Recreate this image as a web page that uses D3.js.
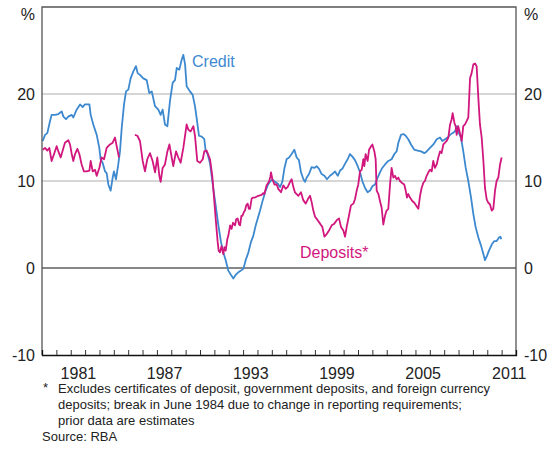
<!DOCTYPE html>
<html>
<head>
<meta charset="utf-8">
<script src="https://cdn.jsdelivr.net/npm/d3@7"></script>
<style>
  html, body { margin: 0; padding: 0; background: #fff; }
  svg { display: block; font-family: 'Liberation Sans', Arial, sans-serif; }
</style>
</head>
<body>
<svg id="chart" width="559" height="450"></svg>
<script>
// annual growth, % (year as decimal, value)
const creditPoints = [
  [1979.05, 14.6], [1979.21, 15.3], [1979.37, 15.5], [1979.56, 16.9], [1979.67, 17.6], [1979.91, 17.6],
  [1980.14, 17.7], [1980.37, 18.0], [1980.49, 17.4], [1980.67, 17.1], [1980.83, 17.4], [1981.07, 17.6],
  [1981.18, 17.3], [1981.41, 18.2], [1981.65, 18.8], [1981.83, 18.5], [1981.99, 18.8], [1982.30, 18.8],
  [1982.39, 17.6], [1982.57, 16.5], [1982.81, 15.3], [1982.99, 13.8], [1983.08, 12.5], [1983.22, 12.1],
  [1983.39, 11.1], [1983.50, 10.9], [1983.62, 9.6], [1983.78, 8.9], [1983.92, 10.4], [1984.01, 11.1],
  [1984.15, 10.2], [1984.31, 11.9], [1984.43, 13.4], [1984.55, 16.1], [1984.71, 18.8], [1984.85, 20.3],
  [1985.01, 20.5], [1985.17, 21.8], [1985.36, 22.6], [1985.54, 23.2], [1985.66, 22.4], [1985.82, 22.2],
  [1986.05, 21.8], [1986.29, 21.6], [1986.47, 20.1], [1986.64, 20.3], [1986.87, 18.6], [1987.10, 18.2],
  [1987.26, 17.6], [1987.40, 18.2], [1987.56, 16.5], [1987.73, 16.3], [1987.91, 19.2], [1988.10, 21.3],
  [1988.26, 21.6], [1988.38, 23.0], [1988.56, 22.8], [1988.72, 23.9], [1988.84, 24.5], [1988.96, 23.4],
  [1989.07, 20.9], [1989.30, 20.3], [1989.49, 19.9], [1989.65, 18.6], [1989.77, 17.2], [1989.93, 15.2],
  [1990.12, 15.1], [1990.30, 14.8], [1990.39, 13.5], [1990.53, 13.1], [1990.70, 12.0], [1990.81, 10.6],
  [1990.93, 9.1], [1991.09, 7.2], [1991.28, 4.9], [1991.46, 3.0], [1991.62, 1.8], [1991.79, 0.9],
  [1991.97, -0.3], [1992.16, -0.8], [1992.32, -1.2], [1992.48, -0.8], [1992.67, -0.5], [1992.85, -0.3],
  [1993.02, -0.1], [1993.18, 0.9], [1993.37, 1.8], [1993.55, 3.0], [1993.71, 3.7], [1993.88, 4.9],
  [1994.02, 5.7], [1994.18, 6.6], [1994.34, 7.6], [1994.53, 8.7], [1994.71, 9.5], [1994.87, 9.9],
  [1995.04, 10.2], [1995.22, 9.9], [1995.41, 9.7], [1995.57, 9.3], [1995.73, 9.9], [1995.87, 11.4],
  [1996.03, 12.5], [1996.20, 12.7], [1996.38, 13.1], [1996.57, 13.6], [1996.73, 12.7], [1996.89, 12.4],
  [1997.03, 11.0], [1997.20, 10.2], [1997.31, 9.9], [1997.43, 10.4], [1997.59, 10.8], [1997.77, 11.6],
  [1997.96, 11.5], [1998.12, 11.7], [1998.29, 11.4], [1998.47, 10.8], [1998.66, 10.6], [1998.84, 10.2],
  [1999.05, 10.6], [1999.21, 10.8], [1999.40, 11.1], [1999.59, 10.6], [1999.75, 11.2], [1999.91, 11.4],
  [2000.10, 12.0], [2000.28, 12.5], [2000.44, 13.1], [2000.61, 12.8], [2000.79, 12.4], [2000.98, 11.7],
  [2001.14, 11.0], [2001.30, 10.0], [2001.49, 9.2], [2001.67, 8.7], [2001.84, 8.9], [2002.00, 9.4],
  [2002.18, 9.6], [2002.37, 10.4], [2002.53, 11.0], [2002.69, 11.5], [2002.88, 11.9], [2003.11, 12.3],
  [2003.34, 12.5], [2003.53, 13.1], [2003.69, 13.4], [2003.81, 14.4], [2003.99, 15.3], [2004.16, 15.4],
  [2004.32, 15.2], [2004.50, 14.8], [2004.69, 14.2], [2004.92, 13.6], [2005.15, 13.5], [2005.39, 13.4],
  [2005.62, 13.2], [2005.78, 13.4], [2006.01, 13.8], [2006.25, 14.2], [2006.48, 14.8], [2006.71, 15.0],
  [2006.87, 14.6], [2007.06, 14.8], [2007.24, 15.0], [2007.41, 15.3], [2007.57, 15.5], [2007.75, 15.7],
  [2007.89, 16.3], [2008.03, 15.5], [2008.17, 15.0], [2008.33, 13.4], [2008.50, 11.5], [2008.68, 10.0],
  [2008.87, 8.1], [2009.03, 6.2], [2009.19, 4.7], [2009.38, 3.5], [2009.56, 2.6], [2009.73, 1.6],
  [2009.84, 0.9], [2009.98, 1.4], [2010.12, 2.0], [2010.31, 2.7], [2010.49, 3.1], [2010.65, 3.1],
  [2010.82, 3.5], [2010.91, 3.6], [2010.98, 3.3]
]

// null value = break in series (June 1984)
const depositPoints = [
  [1979.05, 13.6], [1979.21, 13.8], [1979.37, 13.5], [1979.51, 13.8], [1979.67, 12.3], [1979.84, 13.1],
  [1980.02, 14.0], [1980.14, 13.4], [1980.30, 12.7], [1980.49, 13.8], [1980.60, 14.4], [1980.83, 14.7],
  [1980.95, 14.2], [1981.07, 13.1], [1981.18, 12.3], [1981.30, 13.1], [1981.46, 13.7], [1981.60, 13.1],
  [1981.76, 11.9], [1981.92, 11.1], [1982.11, 11.1], [1982.30, 11.2], [1982.39, 12.3], [1982.53, 11.1],
  [1982.69, 11.3], [1982.81, 10.6], [1982.99, 11.5], [1983.15, 12.7], [1983.32, 12.5], [1983.50, 13.8],
  [1983.73, 14.2], [1983.92, 14.4], [1984.08, 15.0], [1984.20, 14.0], [1984.36, 12.7],
  [1984.90, null],
  [1985.47, 15.3], [1985.64, 15.2], [1985.82, 14.6], [1986.01, 12.3], [1986.17, 11.1], [1986.33, 12.5],
  [1986.52, 13.2], [1986.70, 12.3], [1986.87, 11.0], [1987.03, 12.7], [1987.17, 10.6], [1987.26, 9.9],
  [1987.40, 11.5], [1987.56, 11.9], [1987.73, 13.4], [1987.87, 14.2], [1988.03, 12.7], [1988.14, 11.7],
  [1988.33, 13.4], [1988.49, 12.7], [1988.65, 12.1], [1988.84, 13.8], [1989.07, 16.5], [1989.19, 15.9],
  [1989.35, 15.7], [1989.54, 16.3], [1989.65, 15.2], [1989.81, 12.3], [1990.00, 12.1], [1990.19, 12.5],
  [1990.30, 13.4], [1990.46, 13.5], [1990.70, 12.5], [1990.86, 10.5], [1990.98, 8.0], [1991.10, 5.5],
  [1991.23, 3.0], [1991.30, 2.0], [1991.39, 1.8], [1991.50, 2.5], [1991.62, 1.6], [1991.70, 2.4],
  [1991.79, 2.0], [1991.90, 3.3], [1991.97, 3.7], [1992.10, 4.9], [1992.20, 4.5], [1992.30, 5.2],
  [1992.44, 4.9], [1992.52, 5.6], [1992.62, 5.7], [1992.72, 5.0], [1992.79, 4.9], [1992.88, 6.0],
  [1992.95, 6.0], [1993.05, 6.4], [1993.13, 6.6], [1993.22, 7.2], [1993.32, 7.4], [1993.40, 6.8],
  [1993.48, 6.8], [1993.60, 8.0], [1993.70, 8.1], [1993.83, 8.1], [1994.06, 8.3], [1994.29, 8.4],
  [1994.40, 8.6], [1994.48, 8.5], [1994.64, 9.5], [1994.80, 9.9], [1994.90, 10.5], [1994.94, 11.0],
  [1995.04, 10.2], [1995.18, 9.6], [1995.34, 9.6], [1995.45, 9.1], [1995.64, 8.7], [1995.80, 9.5],
  [1995.96, 9.1], [1996.10, 9.3], [1996.27, 9.9], [1996.38, 10.2], [1996.50, 9.3], [1996.61, 8.7],
  [1996.73, 8.5], [1996.85, 8.3], [1997.03, 8.7], [1997.19, 7.8], [1997.36, 7.4], [1997.54, 8.0],
  [1997.66, 8.3], [1997.77, 7.6], [1997.89, 6.6], [1998.01, 5.9], [1998.19, 5.5], [1998.36, 5.1],
  [1998.52, 4.7], [1998.66, 3.6], [1998.82, 3.9], [1998.98, 4.3], [1999.17, 4.9], [1999.35, 5.1],
  [1999.52, 5.5], [1999.68, 5.7], [1999.82, 4.7], [1999.98, 4.3], [2000.10, 3.6], [2000.21, 4.7],
  [2000.37, 6.0], [2000.51, 7.2], [2000.68, 7.4], [2000.79, 7.9], [2000.91, 8.9], [2001.02, 9.6],
  [2001.14, 11.1], [2001.26, 11.3], [2001.37, 12.5], [2001.44, 11.7], [2001.53, 13.1], [2001.67, 12.3],
  [2001.77, 13.6], [2001.91, 14.0], [2002.00, 14.2], [2002.14, 13.4], [2002.23, 12.5], [2002.30, 8.9],
  [2002.42, 8.5], [2002.53, 7.7], [2002.65, 6.9], [2002.76, 5.0], [2002.88, 6.0], [2002.99, 6.6],
  [2003.11, 6.8], [2003.23, 9.6], [2003.34, 11.5], [2003.46, 10.4], [2003.58, 10.6], [2003.69, 10.2],
  [2003.81, 10.4], [2003.92, 10.0], [2004.04, 9.8], [2004.22, 9.6], [2004.32, 8.9], [2004.41, 8.1],
  [2004.50, 8.5], [2004.62, 8.1], [2004.78, 7.7], [2004.92, 7.5], [2005.08, 7.1], [2005.20, 6.8],
  [2005.32, 8.3], [2005.43, 9.2], [2005.55, 9.8], [2005.66, 10.0], [2005.78, 10.6], [2005.90, 11.0],
  [2006.01, 11.3], [2006.13, 11.1], [2006.24, 12.3], [2006.36, 11.5], [2006.48, 11.9], [2006.59, 12.7],
  [2006.71, 13.4], [2006.82, 13.2], [2006.94, 14.2], [2007.06, 14.4], [2007.17, 14.6], [2007.29, 15.0],
  [2007.41, 16.5], [2007.52, 17.1], [2007.59, 17.8], [2007.71, 16.7], [2007.80, 16.3], [2007.87, 15.3],
  [2007.98, 16.3], [2008.10, 15.5], [2008.22, 14.6], [2008.33, 16.3], [2008.45, 16.5], [2008.57, 16.9],
  [2008.68, 17.3], [2008.80, 21.8], [2008.91, 22.4], [2009.03, 23.4], [2009.15, 23.5], [2009.26, 23.2],
  [2009.38, 19.5], [2009.49, 16.5], [2009.61, 15.0], [2009.73, 12.3], [2009.84, 9.2], [2009.96, 7.9],
  [2010.07, 7.5], [2010.19, 7.3], [2010.31, 6.6], [2010.42, 6.8], [2010.54, 8.9], [2010.65, 10.0],
  [2010.77, 10.4], [2010.89, 11.9], [2011.00, 12.7]
]

const yearLabels = [1981, 1987, 1993, 1999, 2005, 2011]
const yTicks = [-10, 0, 10, 20]
const gridValues = [10, 20]

const footnoteLines = [
  'Excludes certificates of deposit, government deposits, and foreign currency',
  'deposits; break in June 1984 due to change in reporting requirements;',
  'prior data are estimates'
]

class GrowthChart {

  left = 42
  right = 516
  top = 7
  bottom = 355

  creditColor = '#3d89d0'
  depositColor = '#d1177e'

  constructor() {
    this.svg = d3.select('#chart')

    this.x = d3.scaleLinear()
      .domain([1979, 2012])
      .range([this.left, this.right])

    this.y = d3.scaleLinear()
      .domain([-10, 30])
      .range([this.bottom, this.top])

    this.drawGrid()
    this.drawSeries()
    this.drawFrame()
    this.drawLabels()
  }

  drawGrid() {
    this.svg.append('g')
      .selectAll('line')
      .data(gridValues)
      .join('line')
      .attr('x1', this.left)
      .attr('x2', this.right)
      .attr('y1', d => this.y(d))
      .attr('y2', d => this.y(d))
      .attr('stroke', '#c9c9c9')
      .attr('stroke-width', 1.3)

    this.svg.append('line')
      .attr('x1', this.left)
      .attr('x2', this.right)
      .attr('y1', this.y(0))
      .attr('y2', this.y(0))
      .attr('stroke', '#111')
      .attr('stroke-width', 1)
  }

  drawSeries() {
    const line = d3.line()
      .defined(d => d[1] !== null)
      .x(d => this.x(d[0]))
      .y(d => this.y(d[1]))

    this.svg.append('path')
      .datum(creditPoints)
      .attr('fill', 'none')
      .attr('stroke', this.creditColor)
      .attr('stroke-width', 1.8)
      .attr('stroke-linejoin', 'round')
      .attr('d', line)

    this.svg.append('path')
      .datum(depositPoints)
      .attr('fill', 'none')
      .attr('stroke', this.depositColor)
      .attr('stroke-width', 1.8)
      .attr('stroke-linejoin', 'round')
      .attr('d', line)
  }

  drawFrame() {
    // left, top, right borders
    this.svg.append('path')
      .attr('d', `M${this.left},${this.bottom}V${this.top}H${this.right}V${this.bottom}`)
      .attr('fill', 'none')
      .attr('stroke', '#555')
      .attr('stroke-width', 1.3)

    // year ticks point up into the plot
    const tickAxis = d3.axisBottom(this.x)
      .tickValues(d3.range(1980, 2012))
      .tickSize(-5)
      .tickFormat('')

    const gTicks = this.svg.append('g')
      .attr('transform', `translate(0, ${this.bottom})`)
      .call(tickAxis)
    gTicks.select('.domain').attr('stroke', '#111').attr('stroke-width', 1.3)
    gTicks.selectAll('.tick line').attr('stroke', '#333')

    // year labels sit in the middle of each year
    const labelAxis = d3.axisBottom(this.x)
      .tickValues(yearLabels.map(d => d + 0.5))
      .tickSize(0)
      .tickPadding(13)
      .tickFormat(d => Math.floor(d))

    const gLabels = this.svg.append('g')
      .attr('transform', `translate(0, ${this.bottom})`)
      .call(labelAxis)
    gLabels.select('.domain').remove()
    gLabels.selectAll('text')
      .attr('font-size', 16)
      .attr('font-family', 'Liberation Sans, Arial, sans-serif')
      .attr('fill', '#222')

    // plain hyphen for negatives, like the original
    const fmt = d => String(d)

    const leftAxis = d3.axisLeft(this.y)
      .tickValues(yTicks)
      .tickSize(0)
      .tickPadding(7)
      .tickFormat(fmt)

    const gLeft = this.svg.append('g')
      .attr('transform', `translate(${this.left}, 0)`)
      .call(leftAxis)
    gLeft.select('.domain').remove()
    gLeft.selectAll('text')
      .attr('font-size', 16)
      .attr('font-family', 'Liberation Sans, Arial, sans-serif')
      .attr('fill', '#222')

    const rightAxis = d3.axisRight(this.y)
      .tickValues(yTicks)
      .tickSize(0)
      .tickPadding(8)
      .tickFormat(fmt)

    const gRight = this.svg.append('g')
      .attr('transform', `translate(${this.right}, 0)`)
      .call(rightAxis)
    gRight.select('.domain').remove()
    gRight.selectAll('text')
      .attr('font-size', 16)
      .attr('font-family', 'Liberation Sans, Arial, sans-serif')
      .attr('fill', '#222')
  }

  drawLabels() {
    this.svg.append('text')
      .attr('x', this.left - 7)
      .attr('y', 20)
      .attr('text-anchor', 'end')
      .attr('font-size', 16)
      .attr('fill', '#222')
      .text('%')

    this.svg.append('text')
      .attr('x', this.right + 8)
      .attr('y', 20)
      .attr('font-size', 16)
      .attr('fill', '#222')
      .text('%')

    this.svg.append('text')
      .attr('x', 192)
      .attr('y', 67)
      .attr('font-size', 16)
      .attr('fill', this.creditColor)
      .text('Credit')

    this.svg.append('text')
      .attr('x', 300)
      .attr('y', 258)
      .attr('font-size', 16)
      .attr('fill', this.depositColor)
      .text('Deposits*')

    const notes = this.svg.append('g')
      .attr('font-size', 13)
      .attr('fill', '#222')

    notes.append('text')
      .attr('x', 43)
      .attr('y', 392)
      .text('*')

    notes.selectAll('text.line')
      .data(footnoteLines)
      .join('text')
      .attr('class', 'line')
      .attr('x', 58)
      .attr('y', (d, i) => 393 + i * 16)
      .text(d => d)

    notes.append('text')
      .attr('x', 42)
      .attr('y', 441)
      .text('Source: RBA')
  }
}

new GrowthChart()
</script>
</body>
</html>
